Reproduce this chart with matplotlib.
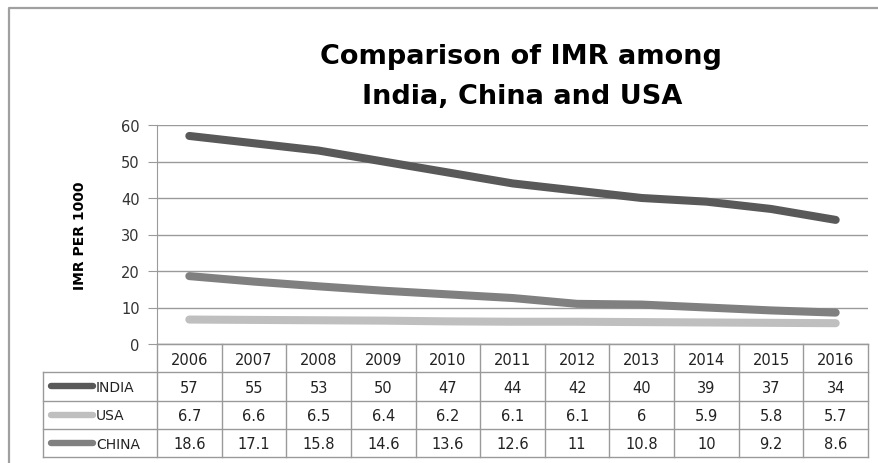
import numpy as np
import matplotlib
matplotlib.use("Agg")
import matplotlib.pyplot as plt
from matplotlib.lines import Line2D

years = ["2006", "2007", "2008", "2009", "2010", "2011",
         "2012", "2013", "2014", "2015", "2016"]
series_names = ["INDIA", "USA", "CHINA"]
india = [57, 55, 53, 50, 47, 44, 42, 40, 39, 37, 34]
usa = [6.7, 6.6, 6.5, 6.4, 6.2, 6.1, 6.1, 6, 5.9, 5.8, 5.7]
china = [18.6, 17.1, 15.8, 14.6, 13.6, 12.6, 11, 10.8, 10, 9.2, 8.6]
colors = ["#595959", "#BFBFBF", "#808080"]

W, H = 879, 464
fig = plt.figure(figsize=(W / 100, H / 100), dpi=100)
grid_c = "#9A9A9A"

# plot area
px_l, px_r, px_t, px_b = 157, 868, 126, 345
ax = fig.add_axes([px_l / W, 1 - px_b / H, (px_r - px_l) / W, (px_b - px_t) / H])
x = np.arange(len(years))
for vals, c in zip([india, usa, china], colors):
    ax.plot(x, vals, color=c, lw=5.8, solid_capstyle="round",
            solid_joinstyle="round", zorder=3)
ax.set_xlim(-0.5, len(years) - 0.5)
ax.set_ylim(0, 60)
ax.set_yticks(range(0, 61, 10))
ax.set_xticks([])
ax.grid(axis="y", color=grid_c, lw=1)
for s in ["top", "right"]:
    ax.spines[s].set_visible(False)
for s in ["left", "bottom"]:
    ax.spines[s].set_color(grid_c)
ax.tick_params(axis="y", length=6.5, color=grid_c, labelsize=10.5,
               labelcolor="#333333", pad=6)
ax.set_ylabel("IMR PER 1000", fontsize=10, fontweight="bold")
ax.yaxis.set_label_coords(-(px_l - 87) / (px_r - px_l), 0.5)

fig.text(521 / W, 1 - 57 / H, "Comparison of IMR among", ha="center",
         va="center", fontsize=19.5, fontweight="bold")
fig.text(522 / W, 1 - 97 / H, "India, China and USA", ha="center",
         va="center", fontsize=19.5, fontweight="bold")

# data table under the plot
tl, tr, tt, tb = 43, 868, 345, 458
tax = fig.add_axes([tl / W, 1 - tb / H, (tr - tl) / W, (tb - tt) / H])
colw = (px_r - px_l) / len(years)
x0 = -0.5 - (px_l - tl) / colw
xr = len(years) - 0.5
tax.set_xlim(x0, xr)
tax.set_ylim(4, 0)
tax.axis("off")
lk = dict(color=grid_c, lw=1, clip_on=False)
tax.plot([-0.5, xr], [0, 0], **lk)
for r in range(1, 5):
    tax.plot([x0, xr], [r, r], **lk)
tax.plot([x0, x0], [1, 4], **lk)
for k in range(len(years) + 1):
    tax.plot([k - 0.5, k - 0.5], [0, 4], **lk)
for i, yr in enumerate(years):
    tax.text(i, 0.55, yr, ha="center", va="center", fontsize=10.5, color="#222222")
for r, (name, vals, c) in enumerate(zip(series_names, [india, usa, china], colors)):
    yy = r + 1.5
    tax.plot([x0 + 8 / colw, x0 + 50 / colw], [yy, yy], color=c, lw=4.6,
             solid_capstyle="round", clip_on=False)
    tax.text(x0 + 53 / colw, yy + 0.03, name, ha="left", va="center",
             fontsize=10, color="#222222")
    for i, v in enumerate(vals):
        tax.text(i, yy + 0.03, f"{v:g}", ha="center", va="center",
                 fontsize=10.5, color="#222222")

# outer chart border (only left and top edges are inside the picture)
bx, by = 9 / W, 1 - 9 / H
fig.add_artist(Line2D([bx, bx, 1.1], [-0.1, by, by], transform=fig.transFigure,
                      color="#A0A0A0", lw=1.6))

fig.savefig("out.png", dpi=100)
